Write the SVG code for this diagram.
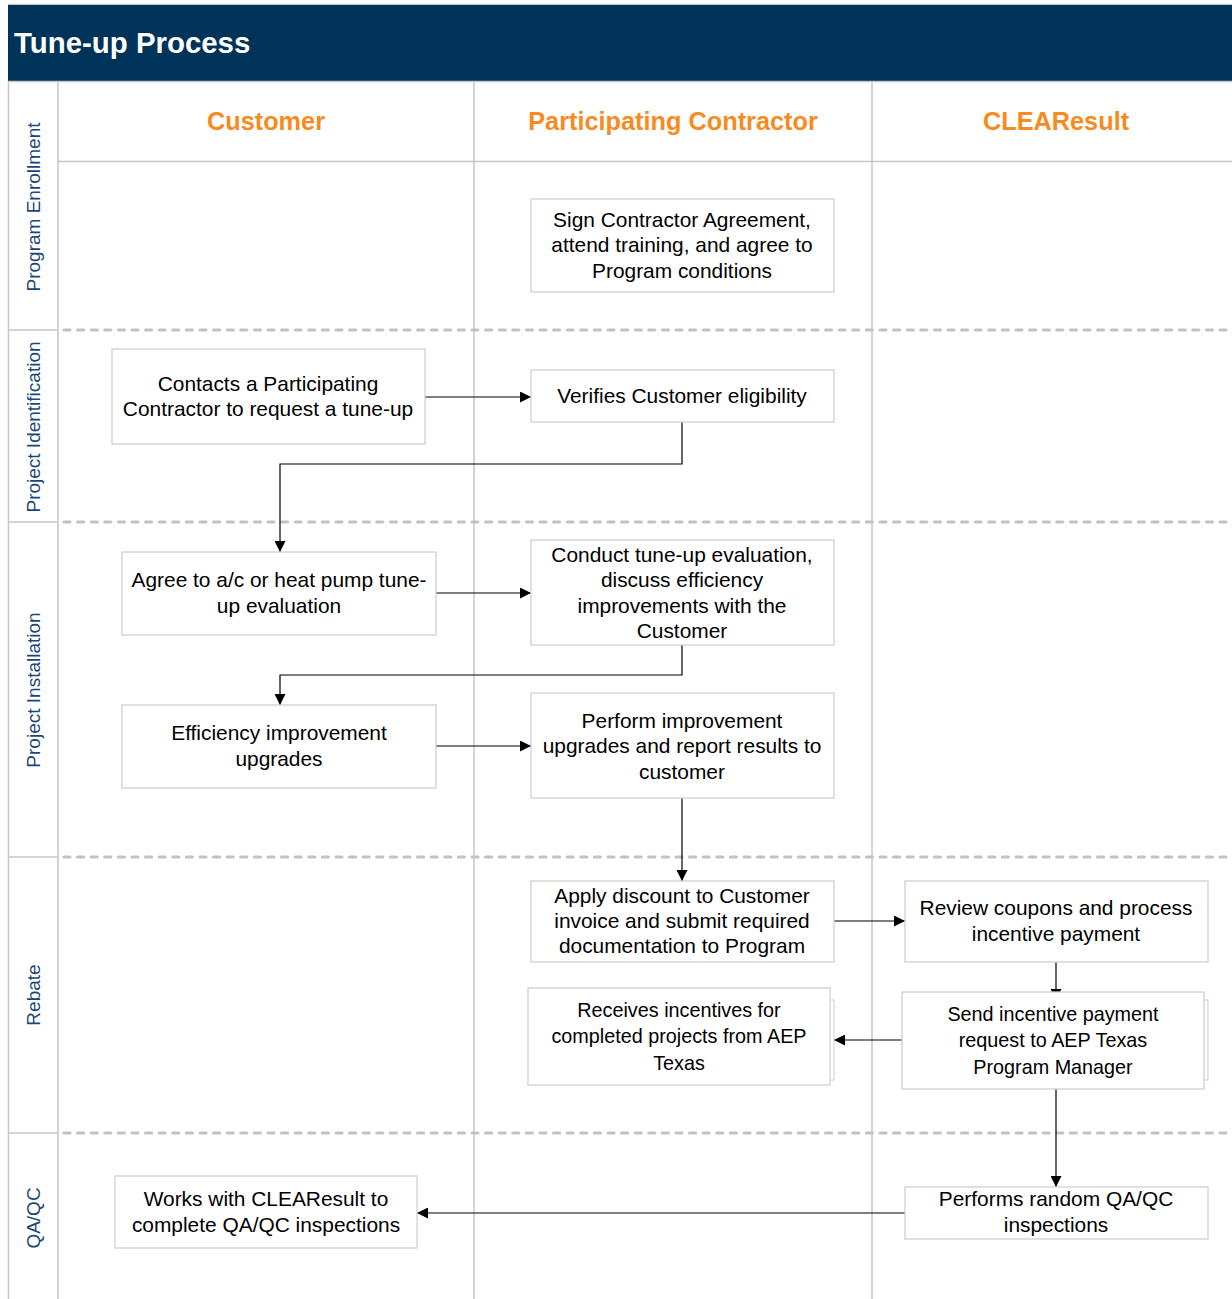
<svg xmlns="http://www.w3.org/2000/svg" width="1232" height="1299" viewBox="0 0 1232 1299">
<defs>
<marker id="arr" markerWidth="11" markerHeight="11" refX="11" refY="5.5" orient="auto" markerUnits="userSpaceOnUse">
<path d="M0,0 L11,5.5 L0,11 Z" fill="#000"/>
</marker>
<style>
.lane{stroke:#c6c6c6;stroke-width:1.5;fill:none}
.dash{stroke:#c2c2c2;stroke-width:3.2;fill:none;stroke-dasharray:6 7.6;stroke-linecap:round}
.box{fill:#fff;stroke:#cfcfcf;stroke-width:1.3}
.ghost{fill:none;stroke:#d6d6d6;stroke-width:1.2}
.t{font-family:"Liberation Sans",Arial,sans-serif;font-size:20.9px;fill:#000;text-anchor:middle}
.ts{font-size:19.8px}
.col{font-family:"Liberation Sans",Arial,sans-serif;font-size:25.3px;font-weight:bold;fill:#f68b1f;text-anchor:middle}
.row{font-family:"Liberation Sans",Arial,sans-serif;font-size:19px;fill:#1a4775;text-anchor:middle}
.c{stroke:#000;stroke-width:1.2;fill:none}
</style>
</defs>
<rect x="0" y="0" width="1232" height="1299" fill="#fff"/>
<g id="frame">
<line x1="8" y1="4.5" x2="1232" y2="4.5" class="lane"/>
<rect x="8" y="5" width="1224" height="76" fill="#003359"/>
<text x="14" y="53" font-family="Liberation Sans,Arial,sans-serif" font-size="29.4" font-weight="bold" fill="#fff">Tune-up Process</text>
<line x1="8" y1="81.5" x2="1232" y2="81.5" class="lane"/>
<line x1="8.5" y1="81" x2="8.5" y2="1299" class="lane"/>
<line x1="58" y1="81" x2="58" y2="1299" class="lane"/>
<line x1="474" y1="81" x2="474" y2="1299" class="lane"/>
<line x1="872" y1="81" x2="872" y2="1299" class="lane"/>
<line x1="58" y1="161.5" x2="1232" y2="161.5" class="lane"/>
<line x1="8" y1="330" x2="58" y2="330" class="lane"/>
<line x1="8" y1="522" x2="58" y2="522" class="lane"/>
<line x1="8" y1="857" x2="58" y2="857" class="lane"/>
<line x1="8" y1="1133" x2="58" y2="1133" class="lane"/>
<line x1="64" y1="330" x2="1232" y2="330" class="dash"/>
<line x1="64" y1="522" x2="1232" y2="522" class="dash"/>
<line x1="64" y1="857" x2="1232" y2="857" class="dash"/>
<line x1="64" y1="1133" x2="1232" y2="1133" class="dash"/>
<text class="col" x="266" y="130">Customer</text>
<text class="col" x="673" y="130">Participating Contractor</text>
<text class="col" x="1056" y="130">CLEAResult</text>
<text class="row" transform="translate(40,207) rotate(-90)">Program Enrollment</text>
<text class="row" transform="translate(40,427) rotate(-90)">Project Identification</text>
<text class="row" transform="translate(40,690) rotate(-90)">Project Installation</text>
<text class="row" transform="translate(40,995) rotate(-90)">Rebate</text>
<text class="row" transform="translate(40,1218) rotate(-90)">QA/QC</text>
</g>
<g id="connectors">
<line class="c" x1="425" y1="397" x2="531" y2="397" marker-end="url(#arr)"/>
<polyline class="c" points="682,422 682,464 280,464 280,552" marker-end="url(#arr)"/>
<line class="c" x1="436" y1="593" x2="531" y2="593" marker-end="url(#arr)"/>
<polyline class="c" points="682,645 682,675 280,675 280,705" marker-end="url(#arr)"/>
<line class="c" x1="436" y1="746" x2="531" y2="746" marker-end="url(#arr)"/>
<line class="c" x1="682" y1="798" x2="682" y2="881" marker-end="url(#arr)"/>
<line class="c" x1="834" y1="921" x2="905" y2="921" marker-end="url(#arr)"/>
<line class="c" x1="1056" y1="962" x2="1056" y2="1000" marker-end="url(#arr)"/>
<line class="c" x1="902" y1="1040" x2="834" y2="1040" marker-end="url(#arr)"/>
<line class="c" x1="1056" y1="1089" x2="1056" y2="1187" marker-end="url(#arr)"/>
<line class="c" x1="905" y1="1213" x2="417" y2="1213" marker-end="url(#arr)"/>
</g>
<g id="n1"><rect class="box" x="531" y="199" width="303" height="93"/>
<text class="t" x="682" y="227">Sign Contractor Agreement,</text><text class="t" x="682" y="252">attend training, and agree to</text><text class="t" x="682" y="278">Program conditions</text></g>
<g id="n2"><rect class="box" x="112" y="349" width="313" height="95"/>
<text class="t" x="268" y="391">Contacts a Participating</text><text class="t" x="268" y="416">Contractor to request a tune-up</text></g>
<g id="n3"><rect class="box" x="531" y="370" width="303" height="52"/>
<text class="t" x="682" y="403">Verifies Customer eligibility</text></g>
<g id="n4"><rect class="box" x="122" y="552" width="314" height="83"/>
<text class="t" x="279" y="587">Agree to a/c or heat pump tune-</text><text class="t" x="279" y="613">up evaluation</text></g>
<g id="n5"><rect class="box" x="531" y="540" width="303" height="105"/>
<text class="t" x="682" y="562">Conduct tune-up evaluation,</text><text class="t" x="682" y="587">discuss efficiency</text><text class="t" x="682" y="613">improvements with the</text><text class="t" x="682" y="638">Customer</text></g>
<g id="n6"><rect class="box" x="122" y="705" width="314" height="83"/>
<text class="t" x="279" y="740">Efficiency improvement</text><text class="t" x="279" y="766">upgrades</text></g>
<g id="n7"><rect class="box" x="531" y="693" width="303" height="105"/>
<text class="t" x="682" y="728">Perform improvement</text><text class="t" x="682" y="753">upgrades and report results to</text><text class="t" x="682" y="779">customer</text></g>
<g id="n8"><rect class="box" x="531" y="881" width="303" height="81"/>
<text class="t" x="682" y="903">Apply discount to Customer</text><text class="t" x="682" y="928">invoice and submit required</text><text class="t" x="682" y="953">documentation to Program</text></g>
<g id="n9"><rect class="box" x="905" y="881" width="303" height="81"/>
<text class="t" x="1056" y="915">Review coupons and process</text><text class="t" x="1056" y="941">incentive payment</text></g>
<g id="n10"><rect class="ghost" x="531" y="1000" width="303" height="80"/><rect class="box" x="528" y="988" width="302" height="97"/>
<text class="t ts" x="679" y="1017">Receives incentives for</text><text class="t ts" x="679" y="1043">completed projects from AEP</text><text class="t ts" x="679" y="1070">Texas</text></g>
<g id="n11"><rect class="ghost" x="905" y="1000" width="303" height="80"/><rect class="box" x="902" y="992" width="302" height="97"/>
<text class="t ts" x="1053" y="1021">Send incentive payment</text><text class="t ts" x="1053" y="1047">request to AEP Texas</text><text class="t ts" x="1053" y="1074">Program Manager</text></g>
<g id="n12"><rect class="box" x="905" y="1187" width="303" height="52"/>
<text class="t" x="1056" y="1206">Performs random QA/QC</text><text class="t" x="1056" y="1232">inspections</text></g>
<g id="n13"><rect class="box" x="115" y="1176" width="302" height="72"/>
<text class="t" x="266" y="1206">Works with CLEAResult to</text><text class="t" x="266" y="1232">complete QA/QC inspections</text></g>
</svg>
